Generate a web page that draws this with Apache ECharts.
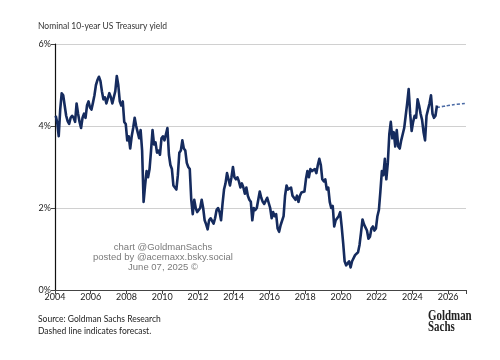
<!DOCTYPE html>
<html>
<head>
<meta charset="utf-8">
<script src="https://cdn.jsdelivr.net/npm/echarts@6/dist/echarts.min.js"></script>
<style>
  html, body { margin: 0; padding: 0; background: #fff; }
  #chart { width: 500px; height: 360px; }
</style>
</head>
<body>
<div id="chart"></div>
<script>
// monthly 10y yield (%), starting Jan 2004
const startYear = 2004;
const yields = [
  4.25, 4.08, 3.75, 4.4, 4.8, 4.75, 4.5, 4.25, 4.12, 4.05, 4.2, 4.25,
  4.2, 4.1, 4.55, 4.3, 4.1, 3.95, 4.2, 4.3, 4.2, 4.5, 4.6, 4.45,
  4.4, 4.57, 4.75, 5.0, 5.12, 5.2, 5.1, 4.85, 4.65, 4.7, 4.55, 4.55,
  4.8, 4.7, 4.55, 4.7, 4.85, 5.22, 5.0, 4.6, 4.5, 4.6, 4.1, 4.05,
  3.65, 3.75, 3.45, 3.75, 3.95, 4.2, 4.0, 3.85, 3.7, 3.9, 3.4, 2.15,
  2.55, 2.9, 2.75, 2.95, 3.4, 3.9, 3.55, 3.6, 3.35, 3.4, 3.3, 3.7,
  3.75, 3.65, 3.8, 3.95, 3.3, 3.05, 2.95, 2.55, 2.55, 2.45, 2.8, 3.35,
  3.4, 3.65, 3.45, 3.4, 3.1, 3.0, 2.95, 2.2, 1.85, 2.2, 2.0, 1.9,
  1.9, 2.0, 2.2, 2.0, 1.7, 1.6, 1.48, 1.7, 1.75, 1.75, 1.62, 1.75,
  1.95, 2.0, 1.9, 1.7, 2.1, 2.45, 2.6, 2.85, 2.7, 2.55, 2.75, 3.0,
  2.75, 2.7, 2.75, 2.65, 2.5, 2.6, 2.5, 2.35, 2.5, 2.3, 2.2, 2.15,
  1.7, 2.0, 1.95, 2.0, 2.2, 2.4, 2.25, 2.15, 2.1, 2.1, 2.25, 2.25,
  2.0, 1.75, 1.9, 1.8, 1.85, 1.5, 1.42, 1.58, 1.6, 1.8, 2.3, 2.55,
  2.45, 2.45, 2.5, 2.3, 2.25, 2.2, 2.3, 2.15, 2.3, 2.38, 2.38, 2.4,
  2.7, 2.9, 2.75, 2.95, 2.9, 2.9, 2.95, 2.85, 3.05, 3.2, 3.05, 2.7,
  2.65, 2.7, 2.45, 2.5, 2.15, 2.0, 2.05, 1.55, 1.7, 1.75, 1.8, 1.9,
  1.55, 1.15, 0.7, 0.6, 0.65, 0.7, 0.55, 0.7, 0.68, 0.85, 0.85, 0.92,
  1.1, 1.4, 1.72, 1.6, 1.58, 1.45, 1.25, 1.3, 1.5, 1.55, 1.45, 1.5,
  1.8, 1.95, 2.4, 2.9, 2.8, 3.2, 2.7, 3.1, 3.8, 4.1, 3.7, 3.85,
  3.5, 3.9, 3.5, 3.45, 3.65, 3.8, 3.95, 4.25, 4.55, 4.9, 4.3, 3.88,
  4.1, 4.25, 4.2, 4.65, 4.5, 4.3, 4.15, 3.85, 3.65, 4.25, 4.4, 4.55,
  4.75, 4.3, 4.2, 4.25, 4.5
];
const forecastX = [2025.38, 2025.75, 2026.0, 2026.5, 2027.0];
const forecastY = [4.45, 4.48, 4.5, 4.53, 4.55];
const yTicks = [0, 2, 4, 6];

const actual = yields.map((v, i) => [startYear + i / 12 + 1 / 24, v]);
const forecast = forecastX.map((x, i) => [x, forecastY[i]]);

const chart = echarts.init(document.getElementById("chart"));
chart.setOption({
  animation: false,
  grid: { left: 55, right: 34, top: 44, bottom: 70 },
  xAxis: {
    type: "value",
    min: 2004,
    max: 2027,
    interval: 2,
    axisLine: { show: true, lineStyle: { color: "#444", width: 1 } },
    axisTick: { show: true, length: 4, lineStyle: { color: "#444" } },
    axisLabel: {
      color: "#222",
      fontFamily: "Lato",
      fontSize: 9,
      margin: 3,
      formatter: (v) => (v % 2 === 0 ? String(v) : "")
    },
    splitLine: { show: false }
  },
  yAxis: {
    type: "value",
    min: 0,
    max: 6,
    interval: 2,
    axisLine: { show: true, lineStyle: { color: "#111", width: 1.2 } },
    axisTick: { show: true, length: 4, lineStyle: { color: "#444" } },
    axisLabel: {
      color: "#222",
      fontFamily: "Lato",
      fontSize: 9,
      margin: 4,
      formatter: (v) => (yTicks.includes(v) ? v + "%" : "")
    },
    splitLine: { show: true, lineStyle: { color: "#d0d0d0", width: 1 } }
  },
  series: [
    {
      name: "Actual",
      type: "line",
      data: actual,
      symbol: "none",
      lineStyle: { color: "#152b5e", width: 2.6, join: "round" },
      z: 3
    },
    {
      name: "Forecast",
      type: "line",
      data: forecast,
      symbol: "none",
      smooth: true,
      lineStyle: { color: "#4a6aa5", width: 1.6, type: [3, 2] },
      z: 2
    }
  ],
  graphic: [
    {
      type: "text", x: 38, y: 22,
      style: { text: "Nominal 10-year US Treasury yield", fill: "#333", font: "8.5px Lato" }
    },
    {
      type: "text", x: 163, y: 242,
      style: {
        text: "chart @GoldmanSachs\nposted by @acemaxx.bsky.social\nJune 07, 2025 ©",
        fill: "#7a7a7a", font: "9.5px 'Liberation Sans'", align: "center", lineHeight: 10
      }
    },
    {
      type: "text", x: 38, y: 313,
      style: {
        text: "Source: Goldman Sachs Research\nDashed line indicates forecast.",
        fill: "#222", font: "8.5px Lato", lineHeight: 12
      }
    },
    {
      type: "text", x: 428, y: 311, scaleX: 0.78,
      style: {
        text: "Goldman\nSachs",
        fill: "#222", font: "bold 14px 'Liberation Serif'", lineHeight: 11
      }
    }
  ]
});
</script>
</body>
</html>
